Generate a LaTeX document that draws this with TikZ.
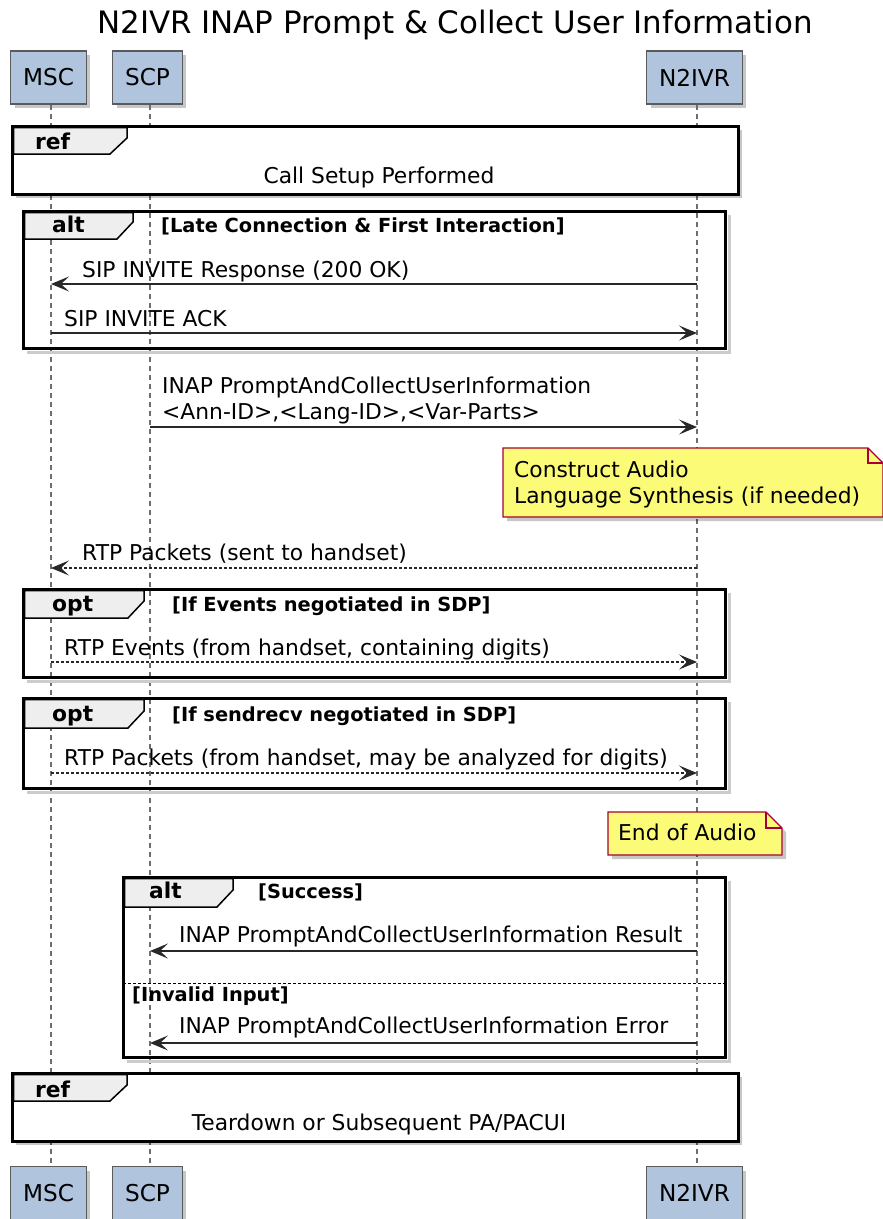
\documentclass[tikz,border=0pt]{standalone}
\usepackage{fontspec}
\setmainfont{DejaVu Sans}
\usetikzlibrary{arrows.meta,shadows}

\definecolor{partfill}{RGB}{176,196,222}
\definecolor{partline}{RGB}{90,90,90}
\definecolor{notefill}{RGB}{251,251,119}
\definecolor{noteline}{RGB}{168,0,54}
\definecolor{tabfill}{RGB}{238,238,238}
\definecolor{lifegray}{RGB}{110,110,110}
\definecolor{msgline}{RGB}{40,40,40}

\begin{document}
\begin{tikzpicture}[x=1pt,y=-1pt]
      \tikzset{
        every node/.style={inner sep=0pt,font=\fontsize{21.8}{26}\selectfont},
        part/.style={rectangle,draw=partline,fill=partfill,line width=1.5pt,inner xsep=12.5pt,
          minimum height=53pt,font=\fontsize{23.2}{28}\selectfont,
          drop shadow={shadow xshift=4pt,shadow yshift=-4pt,fill=black,opacity=.22}},
        lifeline/.style={draw=lifegray,line width=2pt,dash pattern=on 5pt off 4pt},
        msg/.style={draw=msgline,line width=1.4pt,-{Stealth[length=18pt,width=15pt,inset=8pt]}},
        dmsg/.style={msg,line width=1.1pt,dash pattern=on 3pt off 2pt},
        frame/.style={draw=black,line width=3pt},
        fshadow/.style={draw=black!20,line width=3pt},
        reffill/.style={fill=white,drop shadow={shadow xshift=4pt,shadow yshift=-4pt,fill=black,opacity=.22}},
        tab/.style={draw=black,line width=1.5pt,fill=tabfill},
        note/.style={draw=noteline,line width=1.3pt,fill=notefill,
          drop shadow={shadow xshift=4pt,shadow yshift=-4pt,fill=black,opacity=.22}},
        lbl/.style={anchor=base west},
        grplbl/.style={anchor=base west,font=\bfseries\fontsize{21.8}{26}\selectfont},
        guard/.style={anchor=base west,font=\bfseries\fontsize{19.4}{23}\selectfont}
      }
      \useasboundingbox (0,0) rectangle (883,1219);

      \node[anchor=base,font=\fontsize{30.9}{36}\selectfont] (title) at (455,33)
        {N2IVR INAP Prompt \& Collect User Information};

      % participants
      \node[part] (msctop) at (48.5,77.5) {MSC};
      \node[part] (scptop) at (147.5,77.5) {SCP};
      \node[part] (ivrtop) at (694.5,77.5) {N2IVR};
      \node[part] (mscbot) at (48.5,1193) {MSC};
      \node[part] (scpbot) at (147.5,1193) {SCP};
      \node[part] (ivrbot) at (694.5,1193) {N2IVR};

      \draw[lifeline] ([xshift=2.5pt]msctop.south) -- ([xshift=2.5pt]mscbot.north);
      \draw[lifeline] ([xshift=2.5pt]scptop.south) -- ([xshift=2.5pt]scpbot.north);
      \draw[lifeline] ([xshift=2.5pt]ivrtop.south) -- ([xshift=2.5pt]ivrbot.north);

      \coordinate (mscl) at (51,0);
      \coordinate (scpl) at (150,0);
      \coordinate (ivrl) at (697,0);

      % ref: call setup
      \draw[reffill] (12,126) rectangle (738,194);
      \draw[tab] (13.5,127.5) -- (13.5,154) -- (110,154) -- (127,138) -- (127,127.5) -- cycle;
      \draw[frame] (12,126) rectangle (738,194);
      \node[grplbl] (ref1) at (35,149) {ref};
      \node[anchor=base] (ref1txt) at (379,183) {Call Setup Performed};

      % alt: late connection
      \draw[fshadow] (729,215) -- (729,352) -- (27,352);
      \draw[tab] (24.5,212.5) -- (24.5,239) -- (117,239) -- (133,222) -- (133,212.5) -- cycle;
      \draw[frame] (23,211) rectangle (725,348);
      \node[grplbl] (alt1) at (52,232) {alt};
      \node[guard] (alt1g) at (161,232) {[Late Connection \& First Interaction]};

      \coordinate (m1) at (0,284);
      \draw[msg] (ivrl |- m1) -- (mscl |- m1);
      \node[lbl] (m1t) at (82,277) {SIP INVITE Response (200 OK)};
      \coordinate (m2) at (0,333);
      \draw[msg] (mscl |- m2) -- (ivrl |- m2);
      \node[lbl] (m2t) at (64,326) {SIP INVITE ACK};

      \coordinate (m3) at (0,427);
      \draw[msg] (scpl |- m3) -- (ivrl |- m3);
      \node[lbl] (m3a) at (162,393) {INAP PromptAndCollectUserInformation};
      \node[lbl] (m3b) at (162,419) {<Ann-ID>,<Lang-ID>,<Var-Parts>};

      % note: construct audio
      \draw[note] (503,448) -- (868,448) -- (883,463) -- (883,517) -- (503,517) -- cycle;
      \draw[noteline,line width=1.3pt] (868,448) -- (868,463) -- (883,463);
      \node[lbl] (n1a) at (514,477) {Construct Audio};
      \node[lbl] (n1b) at (514,503) {Language Synthesis (if needed)};

      \coordinate (m4) at (0,568);
      \draw[dmsg] (ivrl |- m4) -- (mscl |- m4);
      \node[lbl] (m4t) at (82,560) {RTP Packets (sent to handset)};

      % opt: events
      \draw[fshadow] (729,593) -- (729,681) -- (27,681);
      \draw[tab] (24.5,590.5) -- (24.5,618) -- (128,618) -- (144,601) -- (144,590.5) -- cycle;
      \draw[frame] (23,589) rectangle (725,677);
      \node[grplbl] (opt1) at (52,611) {opt};
      \node[guard] (opt1g) at (172,611) {[If Events negotiated in SDP]};
      \coordinate (m5) at (0,662);
      \draw[dmsg] (mscl |- m5) -- (ivrl |- m5);
      \node[lbl] (m5t) at (64,655) {RTP Events (from handset, containing digits)};

      % opt: sendrecv
      \draw[fshadow] (729,702) -- (729,792) -- (27,792);
      \draw[tab] (24.5,699.5) -- (24.5,728) -- (128,728) -- (144,711) -- (144,699.5) -- cycle;
      \draw[frame] (23,698) rectangle (725,788);
      \node[grplbl] (opt2) at (52,721) {opt};
      \node[guard] (opt2g) at (172,721) {[If sendrecv negotiated in SDP]};
      \coordinate (m6) at (0,773);
      \draw[dmsg] (mscl |- m6) -- (ivrl |- m6);
      \node[lbl] (m6t) at (64,765) {RTP Packets (from handset, may be analyzed for digits)};

      % note: end of audio
      \draw[note] (608,812) -- (766,812) -- (782,828) -- (782,855) -- (608,855) -- cycle;
      \draw[noteline,line width=1.3pt] (766,812) -- (766,828) -- (782,828);
      \node[lbl] (n2) at (618,840) {End of Audio};

      % alt: result
      \draw[fshadow] (729,881) -- (729,1061) -- (127,1061);
      \draw[tab] (124.5,878.5) -- (124.5,907) -- (217,907) -- (233,890) -- (233,878.5) -- cycle;
      \draw[frame] (123,877) rectangle (725,1057);
      \node[grplbl] (alt2) at (149,898) {alt};
      \node[guard] (alt2g) at (258,898) {[Success]};
      \coordinate (m7) at (0,951);
      \draw[msg] (ivrl |- m7) -- (scpl |- m7);
      \node[lbl] (m7t) at (179,942) {INAP PromptAndCollectUserInformation Result};
      \draw[black,line width=1pt,dash pattern=on 3pt off 2pt] (123,983) -- (725,983);
      \node[guard] (alt2h) at (132,1001) {[Invalid Input]};
      \coordinate (m8) at (0,1043);
      \draw[msg] (ivrl |- m8) -- (scpl |- m8);
      \node[lbl] (m8t) at (179,1033) {INAP PromptAndCollectUserInformation Error};

      % ref: teardown
      \draw[reffill] (12,1073) rectangle (738,1141);
      \draw[tab] (13.5,1074.5) -- (13.5,1101) -- (110,1101) -- (127,1085) -- (127,1074.5) -- cycle;
      \draw[frame] (12,1073) rectangle (738,1141);
      \node[grplbl] (ref2) at (35,1097) {ref};
      \node[anchor=base] (ref2txt) at (379,1130) {Teardown or Subsequent PA/PACUI};
    \end{tikzpicture}
\end{document}
